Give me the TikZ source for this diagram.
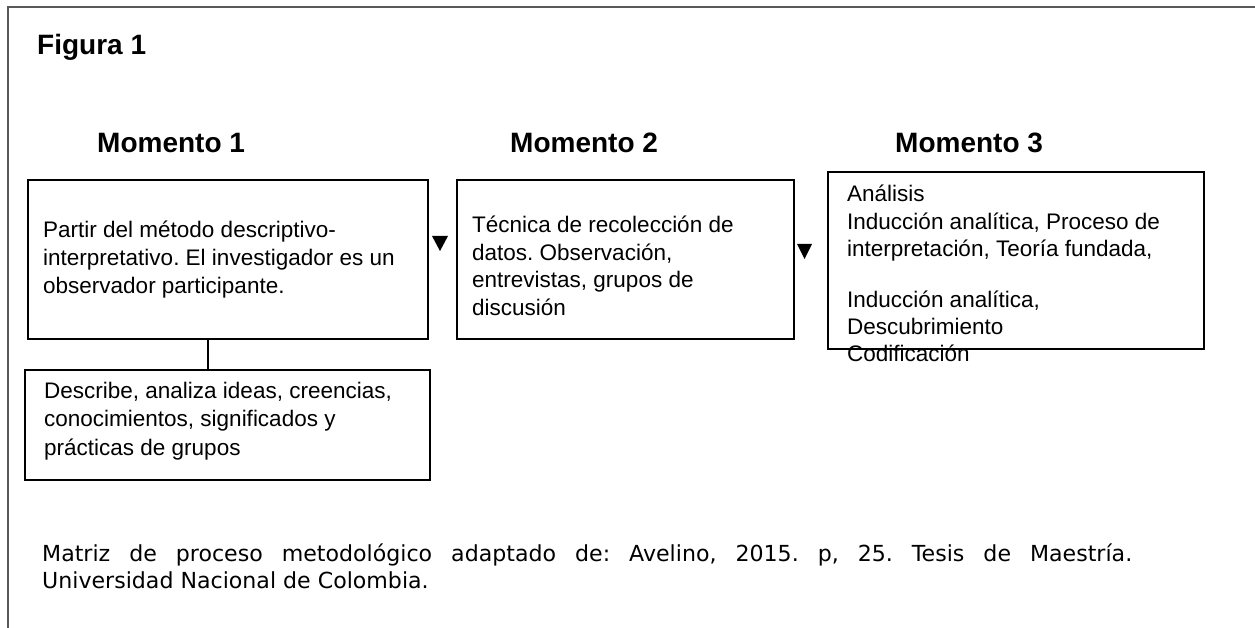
\documentclass[tikz,border=0pt]{standalone}
\usepackage{fontspec}
\setmainfont{Liberation Sans}
\newfontfamily\footfont{DejaVu Sans}
\frenchspacing
\begin{document}
\begin{tikzpicture}[x=1pt,y=-1pt,
  frameline/.style={draw=black!65,line width=2pt},
  boxnode/.style={draw=black,line width=1.6pt,rectangle,inner sep=0pt,anchor=north west},
  heading/.style={anchor=base west,inner sep=0pt,font=\fontsize{28}{34}\selectfont\bfseries},
  bodytext/.style={anchor=base west,inner sep=0pt,font=\fontsize{22.5}{28}\selectfont},
  foottext/.style={anchor=base west,inner sep=0pt,font=\footfont\fontsize{22.1}{27}\selectfont},
  tri/.style={fill=black}]
\useasboundingbox (0,0) rectangle (1255,628);
% outer frame
\draw[frameline] (8,628) -- (8,7) -- (1255,7);
% headings
\node[heading] (fig) at (37,55) {Figura 1};
\node[heading] (m1) at (97,153) {Momento 1};
\node[heading] (m2) at (510,153) {Momento 2};
\node[heading] (m3) at (895,153) {Momento 3};
% boxes
\node[boxnode,minimum width=400pt,minimum height=159pt] (b1) at (27,179) {};
\node[boxnode,minimum width=337pt,minimum height=159pt] (b2) at (456,179) {};
\node[boxnode,minimum width=376pt,minimum height=177pt] (b3) at (827,171) {};
\node[boxnode,minimum width=405pt,minimum height=110pt] (b4) at (24,369) {};
% texts
\node[bodytext] (t1) at (43,238) {\parbox[t]{380pt}{\raggedright\baselineskip=28pt
Partir del método descriptivo-\\interpretativo. El investigador es un\\observador participante.}};
\node[bodytext] (t2) at (472,233) {\parbox[t]{320pt}{\raggedright\baselineskip=27.5pt
Técnica de recolección de\\datos. Observación,\\entrevistas, grupos de\\discusión}};
\node[bodytext] (t3a) at (847,202) {\parbox[t]{360pt}{\raggedright\baselineskip=27.5pt
Análisis\\Inducción analítica, Proceso de\\interpretación, Teoría fundada,}};
\node[bodytext] (t3b) at (847,307) {\parbox[t]{360pt}{\raggedright\baselineskip=27pt
Inducción analítica,\\Descubrimiento\\Codificación}};
\node[bodytext] (t4) at (44,398) {\parbox[t]{390pt}{\raggedright\baselineskip=28.5pt
Describe, analiza ideas, creencias,\\conocimientos, significados y\\prácticas de grupos}};
% connector
\coordinate (cx) at (208,0);
\draw[line width=1.5pt] (b1.south -| cx) -- (b4.north -| cx);
% triangles
\fill[tri] (432,236) -- (448,236) -- (440,251) -- cycle;
\fill[tri] (797,244) -- (812,244) -- (804.5,259) -- cycle;
% footer
\node[foottext] (f1) at (42,561) {\makebox[1090pt][s]{Matriz de proceso metodológico adaptado de: Avelino, 2015. p, 25. Tesis de Maestría.}};
\node[foottext] (f2) at (42,588) {Universidad Nacional de Colombia.};
\end{tikzpicture}
\end{document}
